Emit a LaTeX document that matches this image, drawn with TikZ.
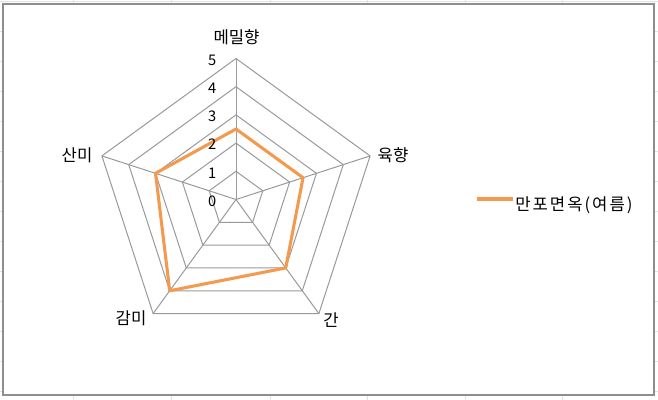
\documentclass[tikz,border=0pt]{standalone}
\usepackage{fontspec}
\setmainfont{Noto Sans CJK KR}
\usepackage{tikz}
\usepackage{xcolor}
\definecolor{webgray}{HTML}{9A9A9A}
\definecolor{serorange}{HTML}{F39A4E}
\definecolor{cellgray}{HTML}{E2E2E2}
\definecolor{framegray}{HTML}{8E8E8E}
\tikzset{
  web/.style={webgray, line width=0.75pt},
  serline/.style={serorange, line width=2.3pt, line join=round},
  axlabel/.style={inner sep=0pt, font=\fontsize{12.5}{14}\selectfont},
  ticklabel/.style={inner sep=0pt, anchor=east, font=\fontsize{11}{13}\selectfont}
}

\begin{document}
\begin{tikzpicture}[x=0.75pt,y=0.75pt]
\useasboundingbox (0,0) rectangle (658,400);
% sheet cells behind the chart
\foreach \cx in {73,171,270,367,465,562} \draw [cellgray, line width=0.75pt] (\cx,0) -- (\cx,400);
\foreach \ry in {0,...,13} \draw [cellgray, line width=0.75pt] (0,398.3-30*\ry) -- (658,398.3-30*\ry);
\draw [framegray, line width=1.1pt, fill=white] (3,5) rectangle (654,396); % chart area

\begin{scope}[shift={(236,200.5)}]
\coordinate (O) at (0,0);
% web
\foreach \k in {1,...,5}
  \draw [web] (90:28.2*\k) -- (18:28.2*\k) -- (-54:28.2*\k) -- (-126:28.2*\k) -- (162:28.2*\k) -- cycle;
\foreach \a in {90,18,-54,-126,162} \draw [web] (O) -- (\a:141);
% values 2.5, 2.5, 3, 4, 3
\draw [serline] (90:70.5) -- (18:70.5) -- (-54:84.6) -- (-126:112.8) -- (162:84.6) -- cycle;
% scale
\foreach \k in {0,...,5} \node [ticklabel] (t\k) at (-19.5,28.2*\k-1.5) {\k};
\end{scope}

\node [axlabel] (buckwheat) at (236.5,362.5) {메밀향}; % top
\node [axlabel] (meat) at (393,245) {육향}; % right
\node [axlabel] (salty) at (331,80) {간}; % lower right
\node [axlabel] (sweet) at (131,82) {감미}; % lower left
\node [axlabel] (sour) at (77,245) {산미}; % left

% legend
\coordinate (leg1) at (477,201);
\coordinate (leg2) at (513,201);
\draw [serorange, line width=2.3pt] (leg1) -- (leg2);
\node [axlabel, anchor=west] (legtext) at (515,195) {\addfontfeature{LetterSpace=12}만포면옥(여름)};
\end{tikzpicture}
\end{document}
